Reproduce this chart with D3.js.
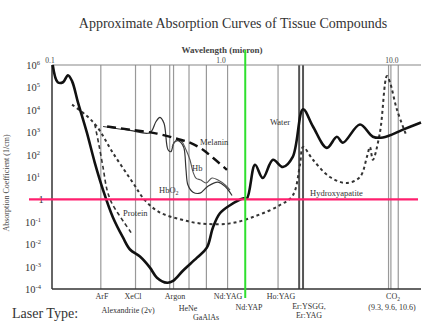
<!DOCTYPE html>
<html>
<head>
<meta charset="utf-8">
<script src="https://cdn.jsdelivr.net/npm/d3@7"></script>
<style>
  html, body { margin: 0; padding: 0; background: #fff; }
  svg { display: block; font-family: "Liberation Serif", "DejaVu Serif", serif; }
</style>
</head>
<body>
<div id="chart"></div>
<script>
const width = 422, height = 331;

// wavelength in micron, absorption coefficient in 1/cm
const waterWl = [0.101, 0.108, 0.116, 0.124, 0.131, 0.142, 0.160, 0.178, 0.199, 0.227, 0.260, 0.286, 0.327, 0.374, 0.411, 0.471, 0.511, 0.583, 0.705, 0.805, 0.874, 0.96, 1.10, 1.31, 1.38, 1.54, 1.71, 1.96, 2.24, 2.56, 2.94, 3.36, 4.05, 4.64, 5.03, 6.33, 7.53, 8.62, 11.3, 14.4];
const waterAbs = [1e6, 1.7e5, 1.7e5, 3.5e5, 1.9e5, 2.1e4, 950, 43, 2.6, 0.16, 0.02, 0.0058, 0.0028, 0.0009, 0.00032, 0.00019, 0.00023, 0.00065, 0.0025, 0.007, 0.056, 0.24, 0.55, 1.1, 1.1, 35, 9, 59, 28, 79, 1.05e4, 1800, 200, 630, 340, 2200, 630, 580, 1300, 2700];

const hapWl = [0.131, 0.156, 0.183, 0.227, 0.298, 0.350, 0.428, 0.561, 0.733, 1.10, 1.58, 2.15, 2.56, 2.82, 2.94, 3.36, 4.22, 5.31, 6.33, 6.95, 7.24, 7.53, 8.28, 9.1, 9.48, 10.4, 11.9];
const hapAbs = [1.7e4, 6200, 1800, 120, 5.4, 0.9, 0.26, 0.13, 0.085, 0.085, 0.19, 0.55, 1.5, 35, 220, 59, 10, 5.4, 10, 79, 220, 59, 950, 3.2e5, 1.7e5, 1.05e4, 630];

const proteinWl = [0.178, 0.188, 0.199, 0.210, 0.224, 0.243, 0.264, 0.290];
const proteinAbs = [2200, 280, 26, 2.6, 0.67, 0.24, 0.094, 0.033];

const melaninWl = [0.210, 0.286, 0.411, 0.538, 0.641, 0.764, 0.874, 1.055];
const melaninAbs = [1800, 1300, 870, 510, 340, 165, 72, 21];

const hbo2Wl = [0.199, 0.286, 0.374, 0.406, 0.428, 0.452, 0.477, 0.496, 0.517, 0.545, 0.568, 0.591, 0.608, 0.624, 0.668, 0.733, 0.817, 0.935, 1.04, 1.13];
const hbo2Abs = [1800, 1200, 950, 3000, 4600, 2500, 165, 135, 340, 420, 340, 200, 21, 4.4, 2.1, 1.9, 3.9, 5.9, 3.5, 1.5];

const hbWl = [0.504, 0.538, 0.575, 0.608, 0.641, 0.668, 0.695, 0.743, 0.796, 0.863, 0.935, 1.03, 1.10];
const hbAbs = [220, 460, 380, 165, 59, 17, 9, 7.3, 5.4, 9, 7.3, 4.4, 2.6];

const laserWl = [0.193, 0.308, 0.377, 0.488, 0.514, 0.633, 0.8, 1.064, 2.1, 2.79, 2.94, 9.3, 9.6, 10.6];
const laserWide = [false, false, false, false, false, false, false, false, false, true, true, false, false, false];

const xTicks = [0.1, 1, 10];
const xTickLabels = ["0.1", "1.0", "10.0"];
const yTicks = [1e6, 1e5, 1e4, 1e3, 1e2, 1e1, 1, 1e-1, 1e-2, 1e-3, 1e-4];

const markerWl = 1.35;   // green marker
const markerAbs = 1;     // pink marker

const svg = d3.select("#chart").append("svg")
  .attr("width", width)
  .attr("height", height);

const x = d3.scaleLog().domain([0.1, 14.4]).range([52, 421]);
const y = d3.scaleLog().domain([1e-4, 1e6]).range([289, 65]);

// title
svg.append("text")
  .attr("x", 233).attr("y", 28)
  .attr("text-anchor", "middle")
  .style("font-size", "14px")
  .attr("fill", "#333")
  .text("Approximate Absorption Curves of Tissue Compounds");

svg.append("text")
  .attr("x", 222).attr("y", 53)
  .attr("text-anchor", "middle")
  .style("font-size", "9px")
  .style("font-weight", "bold")
  .attr("fill", "#444")
  .text("Wavelength (micron)");

// laser lines
svg.append("g").selectAll("line")
  .data(laserWl)
  .enter()
  .append("line")
  .attr("x1", d => x(d)).attr("x2", d => x(d))
  .attr("y1", y(1e6)).attr("y2", y(1e-4))
  .attr("stroke", (d, i) => laserWide[i] ? "#555" : "#999")
  .attr("stroke-width", (d, i) => laserWide[i] ? 2 : 1.2);

// frame
svg.append("line")
  .attr("x1", 52).attr("x2", 421).attr("y1", 65).attr("y2", 65)
  .attr("stroke", "#888").attr("stroke-width", 1.2);
svg.append("line")
  .attr("x1", 52).attr("x2", 421).attr("y1", 289).attr("y2", 289)
  .attr("stroke", "#333").attr("stroke-width", 1.5);
svg.append("line")
  .attr("x1", 52).attr("x2", 52).attr("y1", 65).attr("y2", 289)
  .attr("stroke", "#333").attr("stroke-width", 1.5);

// top tick labels
svg.append("g").selectAll("text")
  .data(xTicks)
  .enter()
  .append("text")
  .attr("x", d => x(d) - 2)
  .attr("y", 63)
  .attr("text-anchor", "middle")
  .style("font-size", "7.5px")
  .attr("fill", "#444")
  .text((d, i) => xTickLabels[i]);

// y tick labels
const yl = svg.append("g").selectAll("text")
  .data(yTicks)
  .enter()
  .append("text")
  .attr("x", d => d === 1 ? 41 : 33)
  .attr("y", d => y(d) + 4)
  .attr("text-anchor", "middle")
  .style("font-size", "10.5px")
  .attr("fill", "#333");
yl.append("tspan").text(d => d === 1 ? "1" : "10");
yl.filter(d => d !== 1).append("tspan")
  .attr("dy", -4)
  .style("font-size", "6.5px")
  .text(d => Math.round(Math.log10(d)));

svg.append("text")
  .attr("transform", "translate(9,183) rotate(-90)")
  .attr("text-anchor", "middle")
  .style("font-size", "8px")
  .attr("fill", "#444")
  .text("Absorption Coefficient (1/cm)");

// curves
const line = d3.line()
  .x(d => x(d[0]))
  .y(d => y(d[1]))
  .curve(d3.curveCatmullRom.alpha(0.5));

function drawCurve(wl, abs, color, w, dash) {
  svg.append("path")
    .attr("d", line(d3.zip(wl, abs)))
    .attr("fill", "none")
    .attr("stroke", color)
    .attr("stroke-width", w)
    .attr("stroke-dasharray", dash)
    .attr("stroke-linejoin", "round");
}

drawCurve(hbo2Wl, hbo2Abs, "#333", 1.2, null);
drawCurve(hbWl, hbAbs, "#555", 1.1, null);
drawCurve(melaninWl, melaninAbs, "#111", 2.4, "9,5");
drawCurve(proteinWl, proteinAbs, "#333", 1.6, "4,3");
drawCurve(hapWl, hapAbs, "#333", 2, "3,3");
drawCurve(waterWl, waterAbs, "#111", 2.6, null);

// curve labels
const labels = [
  ["Water", 270, 125],
  ["Hydroxyapatite", 310, 196],
  ["Protein", 123, 216],
  ["Melanin", 200, 145],
  ["Hb", 192, 171]
];
svg.append("g").selectAll("text")
  .data(labels)
  .enter()
  .append("text")
  .attr("x", d => d[1])
  .attr("y", d => d[2])
  .style("font-size", "8.5px")
  .attr("fill", "#333")
  .text(d => d[0]);
const hbo2 = svg.append("text")
  .attr("x", 159).attr("y", 193)
  .style("font-size", "8.5px")
  .attr("fill", "#333");
hbo2.append("tspan").text("HbO");
hbo2.append("tspan").attr("dy", 2).style("font-size", "6px").text("2");

// laser type labels
svg.append("text")
  .attr("x", 12).attr("y", 318)
  .style("font-size", "14px")
  .attr("fill", "#333")
  .text("Laser Type:");

const laserLabels = [
  ["ArF", 102, 299],
  ["XeCl", 133, 299],
  ["Alexandrite (2v)", 128, 313],
  ["Argon", 175, 299],
  ["HeNe", 188, 311],
  ["GaAlAs", 206, 320],
  ["Nd:YAG", 228, 299],
  ["Nd:YAP", 249, 310],
  ["Ho:YAG", 281, 299],
  ["Er:YSGG,", 309, 309],
  ["Er:YAG", 309, 318],
  ["(9.3, 9.6, 10.6)", 392, 310]
];
svg.append("g").selectAll("text")
  .data(laserLabels)
  .enter()
  .append("text")
  .attr("x", d => d[1])
  .attr("y", d => d[2])
  .attr("text-anchor", "middle")
  .style("font-size", "8px")
  .attr("fill", "#333")
  .text(d => d[0]);
const co2 = svg.append("text")
  .attr("x", 393).attr("y", 299)
  .attr("text-anchor", "middle")
  .style("font-size", "8px")
  .attr("fill", "#333");
co2.append("tspan").text("CO");
co2.append("tspan").attr("dy", 2).style("font-size", "5.5px").text("2");

// markers
svg.append("line")
  .attr("x1", 29).attr("x2", 418)
  .attr("y1", y(markerAbs)).attr("y2", y(markerAbs))
  .attr("stroke", "#ff1f6e").attr("stroke-width", 2.2);
svg.append("line")
  .attr("x1", x(markerWl)).attr("x2", x(markerWl))
  .attr("y1", 50).attr("y2", 298)
  .attr("stroke", "#2ee02e").attr("stroke-width", 2);
</script>
</body>
</html>
